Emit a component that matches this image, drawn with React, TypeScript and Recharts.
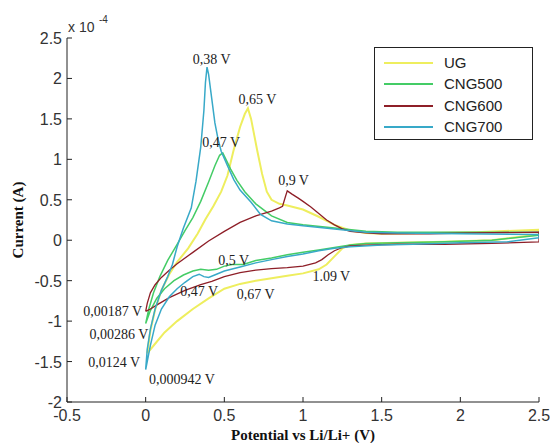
import React from "react";
import { LineChart, Line, XAxis, YAxis, ReferenceDot } from "recharts";

// potential (V) / current (x 1e-4 A) pairs, forward then reverse sweep
const ugForward = [
  [0.01, -1.4], [0.03, -1.12], [0.06, -0.86], [0.1, -0.62], [0.15, -0.42], [0.2, -0.27],
  [0.27, -0.1], [0.33, 0.08], [0.38, 0.26], [0.43, 0.42], [0.48, 0.6], [0.52, 0.8],
  [0.56, 1.12], [0.6, 1.4], [0.63, 1.56], [0.65, 1.63], [0.67, 1.5], [0.69, 1.3],
  [0.71, 1.1], [0.74, 0.82], [0.77, 0.6], [0.8, 0.5], [0.85, 0.45], [0.9, 0.43],
  [1.0, 0.38], [1.1, 0.29], [1.2, 0.19], [1.3, 0.12], [1.4, 0.09], [1.5, 0.08],
  [1.8, 0.09], [2.1, 0.1], [2.5, 0.13],
];
const ugReverse = [
  [2.5, 0.07], [2.2, 0.0], [1.9, -0.02], [1.6, -0.03], [1.4, -0.04], [1.3, -0.06],
  [1.25, -0.1], [1.2, -0.2], [1.15, -0.3], [1.1, -0.36], [1.0, -0.41], [0.9, -0.44],
  [0.8, -0.47], [0.7, -0.5], [0.6, -0.54], [0.5, -0.6], [0.4, -0.72], [0.3, -0.85],
  [0.2, -1.0], [0.12, -1.14], [0.06, -1.28], [0.01, -1.4],
];

const cng500Forward = [
  [0, -1.03], [0.02, -0.85], [0.05, -0.65], [0.09, -0.45], [0.14, -0.25], [0.2, -0.05],
  [0.25, 0.12], [0.3, 0.28], [0.35, 0.48], [0.4, 0.72], [0.44, 0.92], [0.47, 1.05],
  [0.49, 1.08], [0.51, 1.0], [0.54, 0.88], [0.58, 0.74], [0.63, 0.6], [0.7, 0.45],
  [0.8, 0.3], [0.9, 0.22], [1.0, 0.19], [1.2, 0.15], [1.4, 0.11], [1.6, 0.1],
  [2.0, 0.1], [2.5, 0.1],
];
const cng500Reverse = [
  [2.5, 0.06], [2.2, 0.0], [1.9, -0.02], [1.6, -0.03], [1.4, -0.04], [1.3, -0.06],
  [1.2, -0.09], [1.1, -0.12], [1.0, -0.15], [0.9, -0.18], [0.8, -0.22], [0.7, -0.25],
  [0.62, -0.3], [0.55, -0.3], [0.5, -0.32], [0.45, -0.36], [0.4, -0.37], [0.35, -0.36],
  [0.3, -0.38], [0.24, -0.43], [0.18, -0.5], [0.12, -0.6], [0.07, -0.72], [0.03, -0.87],
  [0, -1.03],
];

const cng600Forward = [
  [0, -0.88], [0.01, -0.78], [0.03, -0.65], [0.06, -0.55], [0.1, -0.46], [0.15, -0.37],
  [0.2, -0.29], [0.3, -0.15], [0.4, -0.01], [0.5, 0.11], [0.6, 0.22], [0.7, 0.3],
  [0.8, 0.36], [0.85, 0.4], [0.87, 0.42], [0.89, 0.55], [0.9, 0.61], [0.93, 0.57],
  [0.97, 0.52], [1.0, 0.48], [1.05, 0.41], [1.1, 0.33], [1.15, 0.25], [1.2, 0.19],
  [1.25, 0.14], [1.3, 0.11], [1.4, 0.09], [1.5, 0.08], [1.8, 0.08], [2.1, 0.09],
  [2.5, 0.1],
];
const cng600Reverse = [
  [2.5, -0.02], [2.2, -0.04], [1.9, -0.05], [1.6, -0.05], [1.4, -0.06], [1.3, -0.07],
  [1.25, -0.09], [1.2, -0.13], [1.16, -0.18], [1.12, -0.24], [1.08, -0.28], [1.0, -0.32],
  [0.9, -0.34], [0.8, -0.35], [0.7, -0.37], [0.6, -0.4], [0.5, -0.45], [0.42, -0.51],
  [0.35, -0.55], [0.25, -0.62], [0.15, -0.71], [0.08, -0.79], [0.03, -0.85], [0, -0.88],
];

const cng700Forward = [
  [0, -1.6], [0.01, -1.35], [0.03, -1.1], [0.06, -0.85], [0.1, -0.62], [0.14, -0.45],
  [0.17, -0.3], [0.2, -0.08], [0.24, 0.15], [0.29, 0.4], [0.32, 0.73], [0.35, 1.15],
  [0.37, 1.6], [0.38, 1.95], [0.39, 2.14], [0.4, 2.05], [0.42, 1.75], [0.44, 1.45],
  [0.46, 1.25], [0.48, 1.1], [0.52, 0.92], [0.56, 0.75], [0.6, 0.62], [0.67, 0.47],
  [0.73, 0.32], [0.8, 0.24], [0.9, 0.2], [1.0, 0.18], [1.2, 0.14], [1.4, 0.1],
  [1.6, 0.09], [2.0, 0.08], [2.5, 0.07],
];
const cng700Reverse = [
  [2.5, 0.03], [2.3, -0.02], [2.0, -0.03], [1.7, -0.05], [1.5, -0.06], [1.3, -0.08],
  [1.2, -0.1], [1.1, -0.13], [1.0, -0.17], [0.9, -0.2], [0.8, -0.24], [0.7, -0.28],
  [0.6, -0.33], [0.5, -0.38], [0.45, -0.42], [0.4, -0.46], [0.37, -0.45], [0.34, -0.42],
  [0.3, -0.45], [0.25, -0.52], [0.2, -0.6], [0.15, -0.7], [0.1, -0.85], [0.06, -1.05],
  [0.03, -1.3], [0, -1.6],
];

const xTicks = [-0.5, 0, 0.5, 1, 1.5, 2, 2.5];
const yTicks = [-2, -1.5, -1, -0.5, 0, 0.5, 1, 1.5, 2, 2.5];

// peak annotations, placed at (V, I)
const notes = [
  { text: "0,38 V", v: 0.42, i: 2.24 },
  { text: "0,65 V", v: 0.71, i: 1.74 },
  { text: "0,47 V", v: 0.48, i: 1.21 },
  { text: "0,9 V", v: 0.94, i: 0.75 },
  { text: "0,5 V", v: 0.56, i: -0.24 },
  { text: "0,47 V", v: 0.34, i: -0.63 },
  { text: "0,67 V", v: 0.7, i: -0.66 },
  { text: "1.09 V", v: 1.18, i: -0.44 },
  { text: "0,00187 V", v: -0.21, i: -0.87 },
  { text: "0,00286 V", v: -0.17, i: -1.16 },
  { text: "0,0124 V", v: -0.2, i: -1.5 },
  { text: "0,000942 V", v: 0.23, i: -1.72 },
];

const toPoints = (pairs: number[][]) => pairs.map(([v, i]) => ({ v, i }));

const series = [
  { name: "UG", color: "#eeee5e", width: 2, data: toPoints([...ugForward, ...ugReverse]) },
  { name: "CNG500", color: "#44cc66", width: 1.5, data: toPoints([...cng500Forward, ...cng500Reverse]) },
  { name: "CNG600", color: "#8e1f28", width: 1.3, data: toPoints([...cng600Forward, ...cng600Reverse]) },
  { name: "CNG700", color: "#38a9c8", width: 1.5, data: toPoints([...cng700Forward, ...cng700Reverse]) },
];

const sans = "'Liberation Sans', Arial, sans-serif";
const serif = "'Liberation Serif', 'Times New Roman', serif";

const BottomTick = ({ x, y, payload }: any) => (
  <g>
    <line x1={x} y1={y} x2={x} y2={y - 5} stroke="#222" />
    <text x={x} y={y + 19} textAnchor="middle" fontSize={16} fill="#333" fontFamily={sans}>
      {payload.value}
    </text>
  </g>
);

const LeftTick = ({ x, y, payload }: any) => (
  <g>
    <line x1={x} y1={y} x2={x + 5} y2={y} stroke="#222" />
    <text x={x - 5} y={y + 6} textAnchor="end" fontSize={16} fill="#333" fontFamily={sans}>
      {payload.value}
    </text>
  </g>
);

const TopTick = ({ x, y }: any) => <line x1={x} y1={y} x2={x} y2={y + 5} stroke="#222" />;
const RightTick = ({ x, y }: any) => <line x1={x} y1={y} x2={x - 5} y2={y} stroke="#222" />;

export default function App() {
  return (
    <div style={{ position: "absolute", left: 0, top: 0, width: 550, height: 443, background: "#fff" }}>
      <LineChart width={550} height={443} margin={{ top: 38, right: 11, bottom: 11, left: 7 }}>
        <XAxis
          dataKey="v"
          type="number"
          domain={[-0.5, 2.5]}
          ticks={xTicks}
          allowDataOverflow
          height={30}
          tickSize={0}
          tickMargin={0}
          tickLine={false}
          tick={<BottomTick />}
          axisLine={{ stroke: "#222" }}
          label={{
            value: "Potential vs Li/Li+ (V)",
            position: "bottom",
            offset: -3,
            fontFamily: serif,
            fontWeight: "bold",
            fontSize: 15,
            fill: "#111",
          }}
        />
        <XAxis
          xAxisId="top"
          orientation="top"
          type="number"
          domain={[-0.5, 2.5]}
          ticks={xTicks}
          allowDataOverflow
          height={0}
          tickSize={0}
          tickMargin={0}
          tickLine={false}
          tick={<TopTick />}
          axisLine={{ stroke: "#222" }}
        />
        <YAxis
          type="number"
          domain={[-2, 2.5]}
          ticks={yTicks}
          allowDataOverflow
          width={60}
          tickSize={0}
          tickMargin={0}
          tickLine={false}
          tick={<LeftTick />}
          axisLine={{ stroke: "#222" }}
          label={{
            value: "Current (A)",
            angle: -90,
            position: "insideLeft",
            offset: 11,
            style: { textAnchor: "middle" },
            fontFamily: serif,
            fontWeight: "bold",
            fontSize: 15,
            fill: "#111",
          }}
        />
        <YAxis
          yAxisId="right"
          orientation="right"
          type="number"
          domain={[-2, 2.5]}
          ticks={yTicks}
          allowDataOverflow
          width={0}
          tickSize={0}
          tickMargin={0}
          tickLine={false}
          tick={<RightTick />}
          axisLine={{ stroke: "#222" }}
        />
        {series.map((s) => (
          <Line
            key={s.name}
            data={s.data}
            dataKey="i"
            name={s.name}
            type="linear"
            stroke={s.color}
            strokeWidth={s.width}
            dot={false}
            activeDot={false}
            isAnimationActive={false}
          />
        ))}
        {notes.map((n, k) => (
          <ReferenceDot
            key={k}
            x={n.v}
            y={n.i}
            r={0}
            fill="none"
            stroke="none"
            label={{ value: n.text, position: "center", fontFamily: serif, fontSize: 14, fill: "#222" }}
          />
        ))}
      </LineChart>

      <div style={{ position: "absolute", left: 68, top: 20, fontFamily: sans, fontSize: 14, lineHeight: 1, color: "#333" }}>
        x 10
      </div>
      <div style={{ position: "absolute", left: 99, top: 15, fontFamily: sans, fontSize: 10, lineHeight: 1, color: "#333" }}>
        -4
      </div>

      <div
        style={{
          position: "absolute",
          left: 374,
          top: 47,
          width: 157,
          height: 91,
          border: "1px solid #222",
          background: "#fff",
        }}
      >
        {series.map((s, k) => (
          <div key={s.name} style={{ position: "absolute", left: 0, top: 6 + k * 21.3, height: 18, width: 157 }}>
            <div style={{ position: "absolute", left: 9, top: 8, width: 49, height: 0, borderTop: `2px solid ${s.color}` }} />
            <div style={{ position: "absolute", left: 69, top: 0, fontFamily: sans, fontSize: 15, lineHeight: "18px", color: "#222" }}>
              {s.name}
            </div>
          </div>
        ))}
      </div>
    </div>
  );
}
